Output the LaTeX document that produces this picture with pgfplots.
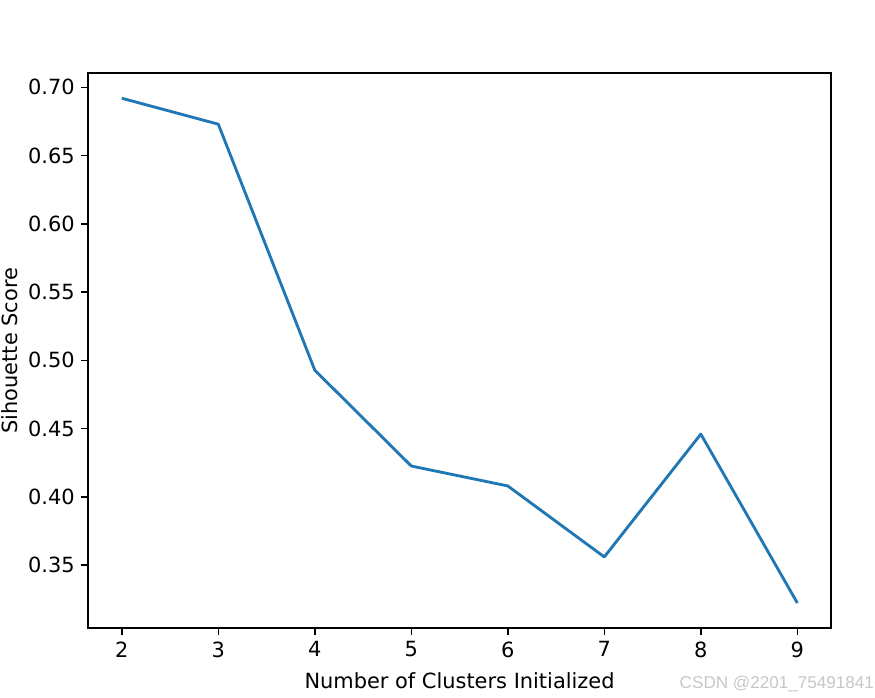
\documentclass[border=0pt]{standalone}
\usepackage{pgfplots}
\pgfplotsset{compat=1.18}
\usepackage{fontspec}
\setmainfont{DejaVu Sans}
\newfontfamily\wmfont{Liberation Sans}
\definecolor{mplblue}{HTML}{1F77B4}
\begin{document}
\begin{tikzpicture}
\path[use as bounding box] (-46.3pt,-36.3pt) rectangle (413.9pt,330.4pt);
\begin{axis}[
  at={(0,0)}, anchor=south west,
  scale only axis,
  width=390.8pt, height=292pt,
  xmin=1.65, xmax=9.35,
  ymin=0.3038, ymax=0.7105,
  xtick={2,3,4,5,6,7,8,9},
  ytick={0.35,0.40,0.45,0.50,0.55,0.60,0.65,0.70},
  yticklabel style={/pgf/number format/.cd, fixed, fixed zerofill, precision=2},
  /pgf/number format/assume math mode=true,
  tick align=outside,
  tick pos=left,
  major tick length=3.5pt,
  every tick/.style={black, line width=0.8pt},
  axis line style={line width=0.8pt},
  tick label style={font=\fontsize{11}{13}\selectfont, black},
  label style={font=\fontsize{11}{13}\selectfont},
  xlabel={Number of Clusters Initialized},
  ylabel={Sihouette Score},
  xlabel style={at={(axis description cs:0.5,-0.0937)}, anchor=center},
  ylabel style={at={(axis description cs:-0.106,0.5)}, anchor=center},
  clip=false,
]
\addplot[mplblue, line width=1.5pt, line join=round] coordinates {
  (2,0.692) (3,0.673) (4,0.4928) (5,0.4226) (6,0.408) (7,0.356) (8,0.446) (9,0.3223)
};
\end{axis}
\node[font=\wmfont\fontsize{9}{10}\selectfont, text=black!22, anchor=west, inner sep=0pt] at (311pt,-29.2pt) {CSDN @2201\_75491841};
\end{tikzpicture}
\end{document}
